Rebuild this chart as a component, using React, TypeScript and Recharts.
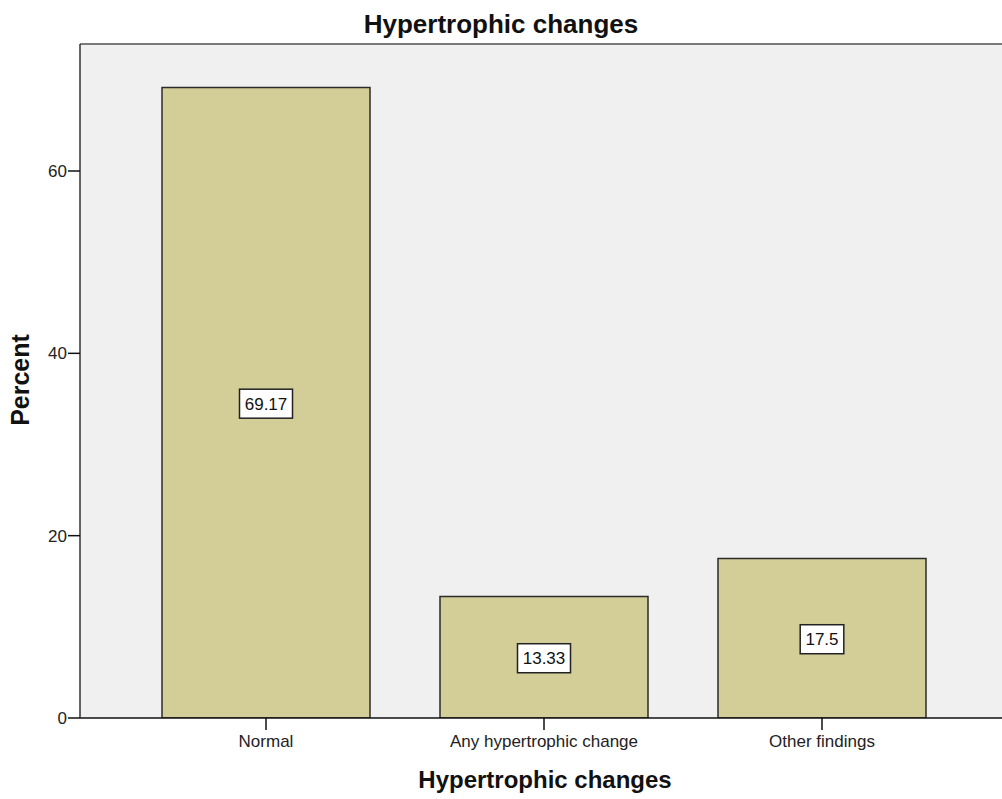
import React from "react";
import { BarChart, Bar, XAxis, YAxis, CartesianGrid, LabelList, ReferenceLine } from "recharts";

const categories = ["Normal", "Any hypertrophic change", "Other findings"];
const percents = [69.17, 13.33, 17.5];
const labels = ["69.17", "13.33", "17.5"];
const yTicks = [0, 20, 40, 60];
const yMax = 73.93;

const data = categories.map((c, i) => ({ name: c, value: percents[i], label: labels[i] }));

const FONT = "'Liberation Sans', Arial, sans-serif";

const BoxLabel = (props: any) => {
  const { x, y, width, height, value } = props;
  const cx = x + width / 2;
  const cy = y + height / 2 + 1;
  const text = String(value);
  const w = text.length * 9.4 + 6;
  const h = 29;
  return (
    <g>
      <rect x={cx - w / 2} y={cy - h / 2} width={w} height={h} fill="#ffffff" stroke="#222" strokeWidth={1.5} />
      <text x={cx} y={cy + 6} textAnchor="middle" fontFamily={FONT} fontSize={17} fill="#111">
        {text}
      </text>
    </g>
  );
};

export default function App() {
  return (
    <div style={{ position: "absolute", left: 0, top: 0, width: 1002, height: 799, background: "#fff" }}>
      <BarChart
        width={1002}
        height={799}
        data={data}
        margin={{ top: 44, right: 0, bottom: 0, left: 0 }}
        barSize={208}
      >
        <CartesianGrid fill="#F0F0F0" horizontal={false} vertical={false} />
        <ReferenceLine y={yMax} stroke="#7a7a7a" strokeWidth={2} ifOverflow="extendDomain" />
        <XAxis
          dataKey="name"
          height={81}
          padding={{ left: 47, right: 41 }}
          axisLine={{ stroke: "#111", strokeWidth: 1.5 }}
          tickLine={{ stroke: "#111", strokeWidth: 1.5 }}
          tickSize={12}
          tick={{ fontFamily: FONT, fontSize: 17, fill: "#222" }}
          tickMargin={5}
          interval={0}
        />
        <YAxis
          width={80}
          domain={[0, yMax]}
          ticks={yTicks}
          allowDataOverflow
          axisLine={{ stroke: "#333", strokeWidth: 1.5 }}
          tickLine={{ stroke: "#111", strokeWidth: 1.5 }}
          tickSize={12}
          tick={{ fontFamily: FONT, fontSize: 17, fill: "#222" }}
          tickMargin={1}
        />
        <Bar dataKey="value" fill="#D3CE98" stroke="#2b2b2b" strokeWidth={1.5} isAnimationActive={false}>
          <LabelList dataKey="label" content={BoxLabel} />
        </Bar>
      </BarChart>
      <svg
        width={1002}
        height={799}
        style={{ position: "absolute", left: 0, top: 0, pointerEvents: "none" }}
      >
        <text x={501} y={33} textAnchor="middle" fontFamily={FONT} fontSize={26} fontWeight="bold" fill="#111">
          Hypertrophic changes
        </text>
        <text x={545} y={788} textAnchor="middle" fontFamily={FONT} fontSize={24} fontWeight="bold" fill="#111">
          Hypertrophic changes
        </text>
        <text
          transform="translate(29,380) rotate(-90)"
          textAnchor="middle"
          fontFamily={FONT}
          fontSize={25}
          fontWeight="bold"
          fill="#111"
        >
          Percent
        </text>
      </svg>
    </div>
  );
}
